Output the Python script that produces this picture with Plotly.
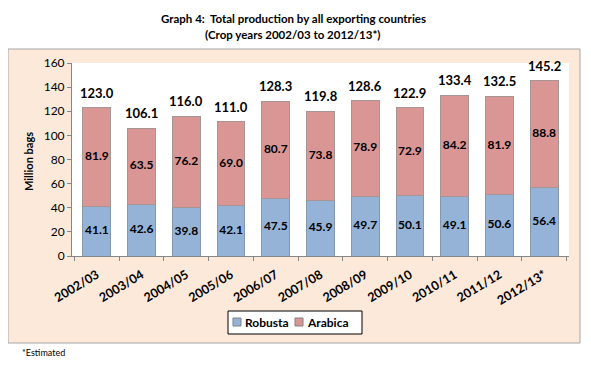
import plotly.graph_objects as go

years = ["2002/03", "2003/04", "2004/05", "2005/06", "2006/07", "2007/08",
         "2008/09", "2009/10", "2010/11", "2011/12", "2012/13*"]
robusta = [41.1, 42.6, 39.8, 42.1, 47.5, 45.9, 49.7, 50.1, 49.1, 50.6, 56.4]
arabica = [81.9, 63.5, 76.2, 69.0, 80.7, 73.8, 78.9, 72.9, 84.2, 81.9, 88.8]
totals = [123.0, 106.1, 116.0, 111.0, 128.3, 119.8, 128.6, 122.9, 133.4, 132.5, 145.2]
series_names = ["Robusta", "Arabica"]
title_lines = ["Graph 4:  Total production by all exporting countries",
               "(Crop years 2002/03 to 2012/13*)"]

FONT = "Lato"
OFF = 8  # default body margin of the page
W, H = 591 - 2 * OFF, 372 - 2 * OFF
# plot area in page pixels: x 72..569, y 63..256
PL, PR, PT, PB = 72, 569, 63, 256
L, R, T, B = PL - OFF, W - (PR - OFF), PT - OFF, H - (PB - OFF)
pw, ph = PR - PL, PB - PT
BLUE, RED = "#95B3D7", "#D99694"

def px(x):
    return (x - PL) / pw

def py(y):
    return (PB - y) / ph

fig = go.Figure()
fig.add_trace(go.Bar(
    x=years, y=robusta, name=series_names[0],
    marker=dict(color=BLUE, line=dict(color="#8497B0", width=1)),
    showlegend=False,
))
fig.add_trace(go.Bar(
    x=years, y=arabica, name=series_names[1],
    marker=dict(color=RED, line=dict(color="#A79494", width=1)),
    showlegend=False,
))
# segment labels
fig.add_trace(go.Scatter(
    x=years, y=[r / 2 for r in robusta], mode="text",
    text=[f"{v:.1f}" for v in robusta], textposition="middle center",
    textfont=dict(family=FONT, size=12, color="#000000", weight="bold"),
    showlegend=False, hoverinfo="skip",
))
fig.add_trace(go.Scatter(
    x=years, y=[r + a / 2 for r, a in zip(robusta, arabica)], mode="text",
    text=[f"{v:.1f}" for v in arabica], textposition="middle center",
    textfont=dict(family=FONT, size=12, color="#000000", weight="bold"),
    showlegend=False, hoverinfo="skip",
))

annotations = []
# total labels above bars
for yr, tot in zip(years, totals):
    annotations.append(dict(
        x=yr, y=tot, xref="x", yref="y", text=f"<b>{tot:.1f}</b>",
        showarrow=False, xanchor="center", yanchor="bottom", yshift=5,
        font=dict(family=FONT, size=13, color="#000000"),
    ))

# legend (drawn manually to match the compact original)
lg_x0, lg_x1, lg_y0, lg_y1 = 228, 362, 311, 334
sq = [(233, 318), (295, 318)]
txt_x = [243, 305]
shapes = [
    dict(type="rect", xref="paper", yref="paper",
         x0=px(8), x1=px(580), y0=py(343), y1=py(49),
         fillcolor="#FDE9D9", line=dict(color="#A6A6A6", width=1), layer="below"),
    dict(type="rect", xref="paper", yref="paper",
         x0=0, x1=1, y0=0, y1=1,
         fillcolor="white", line=dict(width=0), layer="below"),
    dict(type="rect", xref="paper", yref="paper",
         x0=px(lg_x0), x1=px(lg_x1), y0=py(lg_y1), y1=py(lg_y0),
         fillcolor="white", line=dict(color="#000000", width=1)),
]
annotations += [
    dict(text="<b>Million bags</b>", xref="paper", yref="paper",
         x=px(28), y=py(162), textangle=-90, showarrow=False,
         xanchor="center", yanchor="middle",
         font=dict(family=FONT, size=11, color="#000000")),
    dict(text="*Estimated", xref="paper", yref="paper",
         x=px(20), y=py(352), showarrow=False,
         xanchor="left", yanchor="middle",
         font=dict(family=FONT, size=9, color="#000000")),
]
for line, ty in zip(title_lines, [18, 35]):
    annotations.append(dict(text=f"<b>{line}</b>", xref="paper", yref="paper",
                            x=px(293), y=py(ty), showarrow=False,
                            xanchor="center", yanchor="middle",
                            font=dict(family=FONT, size=11.5, color="#000000")))
for (sx, sy), tx, name, col in zip(sq, txt_x, series_names, [BLUE, RED]):
    shapes.append(dict(type="rect", xref="paper", yref="paper",
                       x0=px(sx), x1=px(sx + 8), y0=py(sy + 8), y1=py(sy),
                       fillcolor=col, line=dict(color="#808080", width=1)))
    annotations.append(dict(text=f"<b>{name}</b>", xref="paper", yref="paper",
                            x=px(tx), y=py(322.5), showarrow=False,
                            xanchor="left", yanchor="middle",
                            font=dict(family=FONT, size=12, color="#000000")))

fig.update_layout(
    width=W, height=H,
    margin=dict(l=L, r=R, t=T, b=B),
    barmode="stack", bargap=0.38,
    paper_bgcolor="white", plot_bgcolor="rgba(0,0,0,0)",
    font=dict(family=FONT, size=11, color="#000000"),
    showlegend=False,
    shapes=shapes,
    annotations=annotations,
)
fig.update_yaxes(
    range=[0, 160], dtick=20, showgrid=False, zeroline=False,
    showline=True, linecolor="#868686", linewidth=1,
    ticks="outside", ticklen=4, tickcolor="#868686",
    tickfont=dict(family=FONT, size=12, color="#000000"),
)
fig.update_xaxes(
    showgrid=False, showline=True, linecolor="#868686", linewidth=1,
    ticks="outside", ticklen=4, tickcolor="#868686", tickson="boundaries",
    tickangle=-31, ticklabelstandoff=6,
    tickfont=dict(family=FONT, size=12.5, color="#000000", weight="bold"),
)

fig.write_html("out.html")
